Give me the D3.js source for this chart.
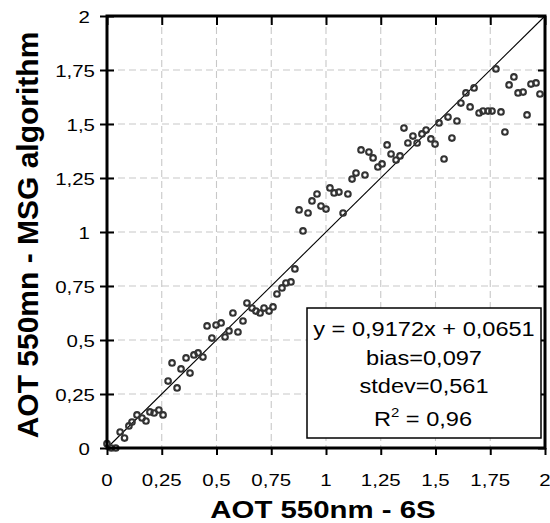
<!DOCTYPE html>
<html><head><meta charset="utf-8">
<script src="https://cdn.jsdelivr.net/npm/d3@7"></script>
<style>body{margin:0;background:#fff}svg{display:block}text{font-family:"Liberation Sans",Arial,sans-serif;fill:#000}</style>
</head><body><svg id="c" width="550" height="523"></svg>
<script>
const tickValues=[0,0.25,0.5,0.75,1,1.25,1.5,1.75,2];
const tickLabels=["0","0,25","0,5","0,75","1","1,25","1,5","1,75","2"];
const xValues=[0.00,0.02,0.04,0.06,0.08,0.10,0.114,0.137,0.160,0.178,
0.196,0.215,0.237,0.256,0.279,0.297,0.320,0.338,0.361,0.379,
0.397,0.416,0.438,0.457,0.479,0.498,0.521,0.539,0.557,0.575,
0.598,0.621,0.639,0.662,0.680,0.699,0.717,0.740,0.758,0.776,
0.799,0.817,0.840,0.858,0.877,0.895,0.918,0.936,0.959,0.977,
1.000,1.018,1.037,1.059,1.078,1.100,1.119,1.137,1.160,1.178,
1.196,1.215,1.237,1.256,1.279,1.297,1.320,1.338,1.356,1.374,
1.397,1.416,1.438,1.457,1.479,1.498,1.516,1.539,1.557,1.575,
1.598,1.616,1.639,1.658,1.676,1.699,1.717,1.740,1.758,1.776,
1.799,1.817,1.836,1.858,1.877,1.900,1.918,1.936,1.959,1.977];
const yValues=[0.02,0.00,0.00,0.074,0.046,0.102,0.120,0.153,0.139,0.125,
0.167,0.162,0.176,0.153,0.310,0.394,0.278,0.366,0.417,0.347,
0.431,0.440,0.421,0.565,0.509,0.569,0.579,0.514,0.542,0.625,
0.537,0.588,0.671,0.648,0.634,0.625,0.648,0.634,0.653,0.713,
0.741,0.764,0.769,0.829,1.102,1.005,1.088,1.144,1.176,1.120,
1.106,1.204,1.181,1.185,1.088,1.176,1.245,1.273,1.380,1.264,
1.370,1.343,1.301,1.315,1.403,1.361,1.333,1.352,1.481,1.412,
1.444,1.412,1.454,1.472,1.431,1.407,1.505,1.338,1.532,1.435,
1.514,1.597,1.644,1.579,1.667,1.551,1.560,1.560,1.560,1.755,
1.556,1.463,1.681,1.718,1.644,1.648,1.542,1.685,1.690,1.639];
const oneToOne=[0,2];
const legendLines=["y = 0,9172x + 0,0651","bias=0,097","stdev=0,561"];
const r2Parts=["R","2"," = 0,96"];
const xTitle="AOT 550nm - 6S";
const yTitle="AOT 550mn - MSG algorithm";

const svg=d3.select("#c");
const x=d3.scaleLinear().domain([0,2]).range([107,545]);
const y=d3.scaleLinear().domain([0,2]).range([448,16]);
const SX=1.19;

// grid
const grid=svg.append("g").attr("stroke","#c8c8c8").attr("stroke-width",1.1).attr("stroke-dasharray","7,4");
tickValues.filter(v=>v>0&&v<2).forEach(v=>{
  grid.append("line").attr("x1",x(v)).attr("x2",x(v)).attr("y1",y(2)).attr("y2",y(0));
  grid.append("line").attr("x1",x(0)).attr("x2",x(2)).attr("y1",y(v)).attr("y2",y(v));
});

// 1:1 line
svg.append("line").attr("x1",x(oneToOne[0])).attr("y1",y(oneToOne[0]))
  .attr("x2",x(oneToOne[1])).attr("y2",y(oneToOne[1]))
  .attr("stroke","#000").attr("stroke-width",1.1);

// points
svg.append("g").selectAll("circle").data(xValues.map((v,i)=>[v,yValues[i]])).join("circle")
  .attr("cx",d=>x(d[0])).attr("cy",d=>y(d[1])).attr("r",2.8)
  .attr("fill","none").attr("stroke","#333").attr("stroke-width",2.1);

// axes (ticks via d3 axes)
function styleAxis(g){g.select(".domain").remove();g.selectAll("line").attr("stroke","#000").attr("stroke-width",2);g.selectAll("text").remove();}
svg.append("g").attr("transform",`translate(0,${y(0)})`)
  .call(d3.axisBottom(x).tickValues(tickValues).tickSize(7).tickFormat("")).call(styleAxis);
svg.append("g").attr("transform",`translate(0,${y(2)})`)
  .call(d3.axisBottom(x).tickValues(tickValues).tickSize(9).tickFormat("")).call(styleAxis);
svg.append("g").attr("transform",`translate(${x(2)},0)`)
  .call(d3.axisLeft(y).tickValues(tickValues).tickSize(7).tickFormat("")).call(styleAxis);
svg.append("g").attr("transform",`translate(${x(0)+7},0)`)
  .call(d3.axisLeft(y).tickValues(tickValues).tickSize(14).tickFormat("")).call(styleAxis);

// frame
svg.append("rect").attr("x",x(0)).attr("y",y(2)).attr("width",x(2)-x(0)).attr("height",y(0)-y(2))
  .attr("fill","none").attr("stroke","#000").attr("stroke-width",3);

function txt(px,py,str,size,anchor,weight,sx){
  return svg.append("text").attr("transform",`translate(${px},${py}) scale(${sx},1)`)
    .attr("text-anchor",anchor).attr("font-size",size).attr("font-weight",weight||"normal").text(str);
}
// tick labels
tickValues.forEach((v,i)=>{
  txt(x(v),486,tickLabels[i],17.2,"middle","normal",SX);
  const isInt=Number.isInteger(v);
  txt(isInt?90:95,y(v)+6.5,tickLabels[i],17.2,"end","normal",SX);
});

// titles
txt(323,517.5,xTitle,24.5,"middle","bold",1.2);
svg.append("text").attr("transform","translate(38,235) rotate(-90)")
  .attr("text-anchor","middle").attr("font-size",30).attr("font-weight","bold").text(yTitle);

// legend
svg.append("rect").attr("x",307).attr("y",308).attr("width",234).attr("height",130)
  .attr("fill","#fff").attr("stroke","#000").attr("stroke-width",1.5);
const lb=[336,365,393];
legendLines.forEach((s,i)=>txt(424,lb[i],s,20.5,"middle","normal",1.15));
const r2=svg.append("text").attr("transform","translate(423,426) scale(1.15,1)")
  .attr("text-anchor","middle").attr("font-size",20.5);
r2.append("tspan").text(r2Parts[0]);
r2.append("tspan").attr("font-size",13).attr("dy",-9).text(r2Parts[1]);
r2.append("tspan").attr("dy",9).text(r2Parts[2]);
</script></body></html>
